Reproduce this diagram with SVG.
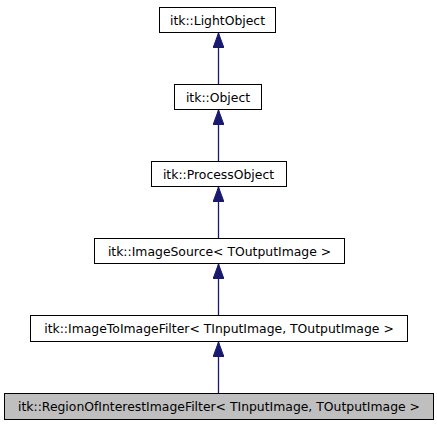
<svg xmlns="http://www.w3.org/2000/svg" width="437" height="427" viewBox="0 0 437 427">
<style>
.box{fill:#ffffff;stroke:#000000;stroke-width:1}
.cur{fill:#bfbfbf;stroke:#000000;stroke-width:1}
.lbl{font-family:"DejaVu Sans",sans-serif;font-size:12.4px;fill:#000000;text-anchor:middle}
.edge{stroke:#191970;stroke-width:1.3;fill:none}
</style>
<defs>
<marker id="ah" markerWidth="11" markerHeight="15" refX="5.5" refY="0" orient="0" markerUnits="userSpaceOnUse" viewBox="0 0 11 15">
<polygon points="5.5,0 11,15 0,15" fill="#191970" stroke="#191970" stroke-width="1"/>
</marker>
</defs>
<g id="connectors">
<line class="edge" x1="218.5" y1="84" x2="218.5" y2="33" marker-end="url(#ah)"/>
<line class="edge" x1="218.5" y1="161" x2="218.5" y2="110" marker-end="url(#ah)"/>
<line class="edge" x1="218.5" y1="238" x2="218.5" y2="187" marker-end="url(#ah)"/>
<line class="edge" x1="218.5" y1="315" x2="218.5" y2="264" marker-end="url(#ah)"/>
<line class="edge" x1="218.5" y1="393" x2="218.5" y2="342" marker-end="url(#ah)"/>
</g>
<g id="node-lightobject">
<rect class="box" x="159.5" y="7.5" width="116" height="25"/>
<text class="lbl" x="217.5" y="24.5">itk::LightObject</text>
</g>
<g id="node-object">
<rect class="box" x="174.5" y="84.5" width="87" height="25"/>
<text class="lbl" x="218" y="101.5">itk::Object</text>
</g>
<g id="node-processobject">
<rect class="box" x="151.5" y="161.5" width="135" height="25"/>
<text class="lbl" x="218.5" y="178.5">itk::ProcessObject</text>
</g>
<g id="node-imagesource">
<rect class="box" x="94.5" y="238.5" width="250" height="25"/>
<text class="lbl" x="219.5" y="255.5">itk::ImageSource&lt; TOutputImage &gt;</text>
</g>
<g id="node-imagetoimagefilter">
<rect class="box" x="30.5" y="315.5" width="377" height="26"/>
<text class="lbl" x="219" y="333">itk::ImageToImageFilter&lt; TInputImage, TOutputImage &gt;</text>
</g>
<g id="node-regionofinterest">
<rect class="cur" x="4.5" y="393.5" width="429" height="26"/>
<text class="lbl" x="219" y="411">itk::RegionOfInterestImageFilter&lt; TInputImage, TOutputImage &gt;</text>
</g>
</svg>
